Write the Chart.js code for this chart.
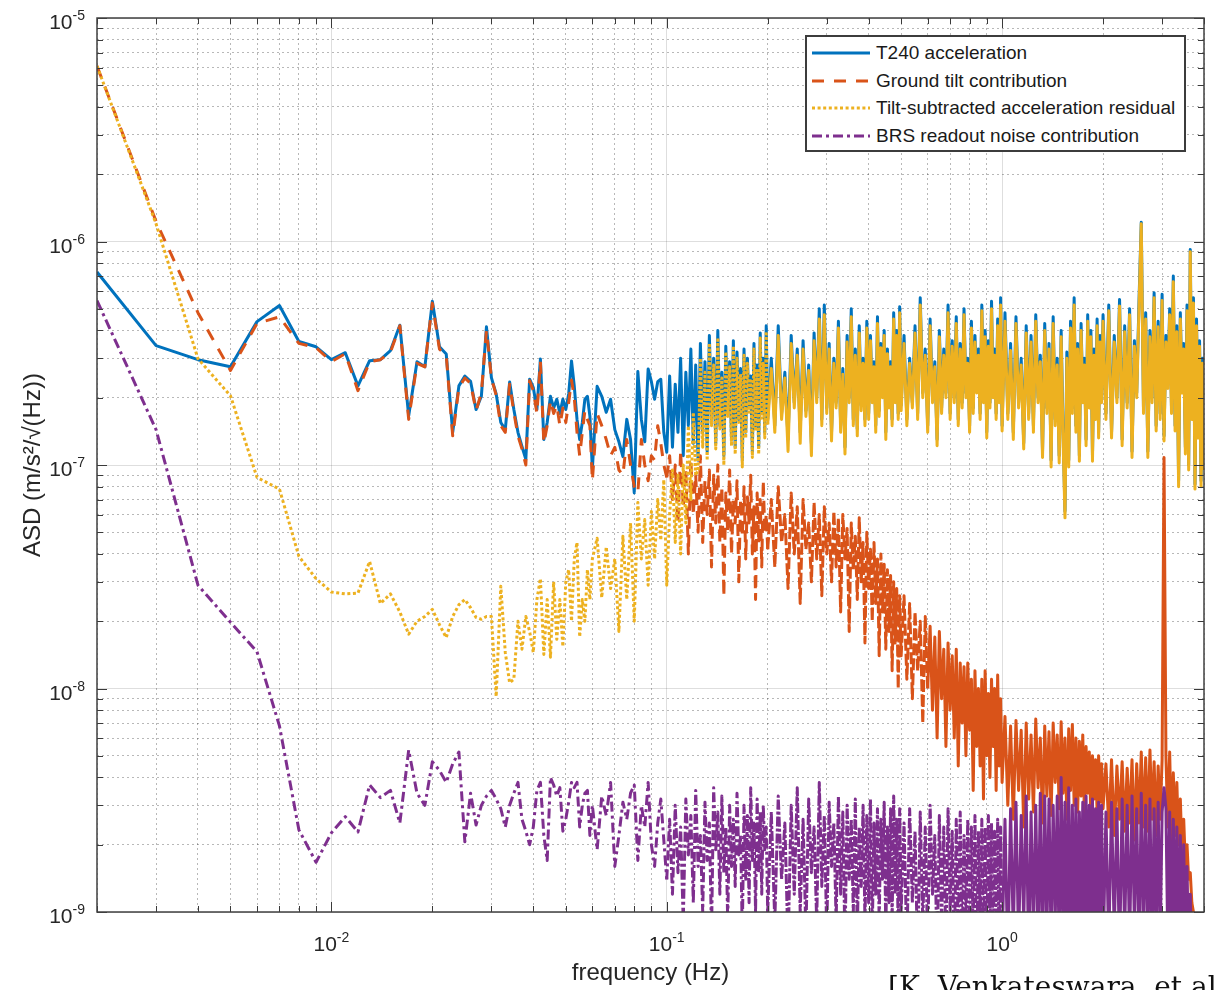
<!DOCTYPE html>
<html>
<head>
<meta charset="utf-8">
<title>T240 / BRS tilt subtraction ASD</title>
<script src="https://cdn.jsdelivr.net/npm/chart.js@4.4.1/dist/chart.umd.min.js"></script>
<style>
  html, body { margin: 0; padding: 0; background: #fff; }
  #wrap { position: relative; width: 1215px; height: 990px; overflow: hidden; font-family: "Liberation Sans", Arial, sans-serif; }
  #chart { position: absolute; left: 0; top: 0; }
  #legend { position: absolute; left: 805px; top: 35px; width: 377px; height: 113px; border: 2px solid #3c3c3c; background: #fff; }
  .row { position: absolute; left: 5px; height: 20px; display: flex; align-items: center; }
  .row span { margin-left: 6px; font-size: 19px; color: #1a1a1a; white-space: nowrap; }
  #cite { position: absolute; left: 888px; top: 973px; font-family: "DejaVu Serif", serif; font-size: 28px; line-height: 28px; white-space: nowrap; color: #111; }
</style>
</head>
<body>
<div id="wrap">
  <canvas id="chart" width="1215" height="990"></canvas>
  <div id="legend">
    <div class="row" style="top:6px"><svg width="58" height="8"><line x1="0" y1="4" x2="58" y2="4" stroke="#0072BD" stroke-width="3"/></svg><span>T240 acceleration</span></div>
    <div class="row" style="top:34px"><svg width="58" height="8"><line x1="0" y1="4" x2="58" y2="4" stroke="#D95319" stroke-width="3" stroke-dasharray="12 10"/></svg><span>Ground tilt contribution</span></div>
    <div class="row" style="top:61px"><svg width="58" height="8"><line x1="0" y1="4" x2="58" y2="4" stroke="#EDB120" stroke-width="3" stroke-dasharray="3 2.6"/></svg><span>Tilt-subtracted acceleration residual</span></div>
    <div class="row" style="top:89px"><svg width="58" height="8"><line x1="0" y1="4" x2="58" y2="4" stroke="#7E2F8E" stroke-width="3" stroke-dasharray="10 4 3 4"/></svg><span>BRS readout noise contribution</span></div>
  </div>
  <div id="cite">[K. Venkateswara, et al</div>
</div>
<script>
// frequency grid in mHz (1 mHz resolution at the low end, thinned out above)
const freqMHz = [
  2,3,4,5,6,7,8,9,10,11,12,13,14,15,16,17,18,19,20,21,22,23,24,25,26,27,28,29,30,
  31,32,33,34,35,36,37,38,39,40,41,42,43,44,45,46,47,48,49,50,51,52,53,54,55,56,57,58,59,60,
  62,64,66,68,70,72,74,76,78,80,82,84,86,88,90,92,94,96,98,100,
  102,104,106,108,110,112,114,116,118,120,122,124,126,128,130,132,134,136,138,140,
  142,144,146,148,150,152,154,156,158,160,162,164,166,168,170,172,174,176,178,180,
  182,184,186,188,190,192,194,196,198,200,
  205,210,215,220,225,230,235,240,245,250,255,260,265,270,275,280,285,290,295,300,
  305,310,315,320,325,330,335,340,345,350,355,360,365,370,375,380,385,390,395,400,
  405,410,415,420,425,430,435,440,445,450,455,460,465,470,475,480,485,490,495,500,
  510,520,530,540,550,560,570,580,590,600,610,620,630,640,650,660,670,680,690,700,
  710,720,730,740,750,760,770,780,790,800,810,820,830,840,850,860,870,880,890,900,
  910,920,930,940,950,960,970,980,990,1000,
  1020,1040,1060,1080,1100,1120,1140,1160,1180,1200,1220,1240,1260,1280,1300,1320,1340,1360,1380,1400,
  1420,1440,1460,1480,1500,1520,1540,1560,1580,1600,1620,1640,1660,1680,1700,1720,1740,1760,1780,1800,
  1820,1840,1860,1880,1900,1920,1940,1960,1980,2000,
  2040,2080,2120,2160,2200,2240,2280,2320,2360,2400,2440,2480,2520,2560,2600,2640,2680,2720,2760,2800,
  2840,2880,2920,2960,3000,3040,3080,3120,3160,3200,3240,3280,3320,3360,3400,3440,3480,3520,3560,3600,
  3640,3680,3720,3760,3800,3840,3880,3920,3960,4000
];

// ASD values in units of 1e-9 m/s^2/sqrt(Hz)
const t240Accel = [
  730,342,296,275,438,517,357,338,296,318,226,293,296,325,422,166,290,275,540,338,314,140,226,250,237,177,203,415,246,
  208,155,144,235,177,140,121,106,242,222,177,298,130,155,203,180,197,170,197,177,208,292,225,160,130,155,197,203,165,96,
  225,203,172,197,144,127,109,160,130,75,262,160,127,269,236,197,236,242,140,114,
  250,120,230,140,300,110,260,150,330,125,280,105,350,140,290,115,380,160,300,125,
  400,150,260,110,340,170,290,130,360,120,320,160,270,105,330,140,300,180,250,115,
  350,150,280,120,390,170,300,140,420,160,
  300,150,420,170,260,130,380,190,330,140,360,175,280,125,390,200,500,160,520,180,
  350,140,300,190,440,150,270,120,380,200,500,160,330,145,420,185,300,160,440,170,
  380,200,290,150,460,175,350,210,400,140,330,190,290,160,480,200,400,170,510,185,
  380,160,300,190,420,170,560,210,330,150,450,200,290,130,400,180,330,210,520,170,
  360,200,460,160,350,190,500,210,300,150,440,180,380,220,330,170,520,200,400,140,
  360,190,540,210,330,170,450,200,560,150,
  480,170,350,140,460,190,300,125,420,170,380,150,470,200,310,115,430,180,350,105,
  460,160,300,110,400,140,62,320,105,440,180,560,150,350,110,430,200,300,130,470,
  190,400,110,330,170,450,140,380,200,470,
  170,520,140,380,200,550,130,420,190,500,115,360,210,540,1220,180,480,115,400,200,
  590,150,440,170,580,135,380,230,500,180,700,150,420,85,480,220,350,120,520,100,
  920,170,560,82,450,140,360,85,300,100
];

const groundTilt = [
  6100,1230,480,265,430,460,350,335,290,315,215,290,296,320,420,160,285,275,530,330,310,135,222,245,232,175,210,400,245,
  205,150,140,230,172,135,118,100,238,215,170,290,125,150,195,170,185,150,180,155,190,240,200,140,110,140,175,160,150,85,
  170,150,130,110,120,95,90,130,100,80,75,130,100,85,110,105,150,125,100,88,
  110,70,100,55,115,65,95,40,105,60,90,50,110,45,85,60,95,35,90,55,
  100,45,80,26,75,50,95,40,70,55,85,30,70,48,80,38,72,55,90,40,
  65,25,75,45,70,35,85,50,60,42,
  70,35,80,45,60,28,75,40,65,24,70,42,55,30,68,38,60,26,65,40,
  55,30,62,35,58,22,60,38,52,18,55,34,48,25,58,30,45,16,50,28,
  42,20,45,24,38,14,40,22,36,15,34,18,32,12,30,16,28,10,26,14,
  26,11,24,9,22,12,20,7,21,10,19,8,17,6,18,9,15,5.5,16,8,
  14,6,15,4.5,13,7,12.5,5,13,6.5,11,3.5,12,5.5,10,4.5,11,3.2,12,5,
  9.5,4,11,5.5,10,3.5,11.5,4.5,9,3.8,
  7.5,3.0,6.8,2.6,7.2,3.5,6.5,2.4,7.0,3.2,6.2,2.8,7.3,3.6,6.0,2.5,6.8,3.3,6.4,2.7,
  7.0,3.8,6.2,2.9,7.1,3.4,6.0,2.6,6.6,3.5,6.9,3.0,6.0,2.8,5.8,3.3,6.2,2.7,5.5,3.4,
  5.2,2.6,5.0,3.2,4.8,2.8,5.0,3.1,4.6,2.9,
  4.6,2.4,4.8,2.2,4.5,2.6,4.7,2.3,4.4,2.5,4.8,2.1,4.6,2.5,5.2,2.4,4.9,2.3,5.3,2.6,
  4.7,2.2,4.5,2.6,4.8,108,5.0,2.4,5.2,2.1,4.2,2.2,3.8,2.0,3.2,1.8,2.6,1.6,2.0,1.4,
  1.5,1.1,1.0,0.8,0.6,0.5,0.4,0.35,0.3,0.25
];

const tiltSubtracted = [
  6100,1200,299,204,88,78,39,31,27,26.5,26.7,37,24,26.5,22,17.5,20,21,22.6,19.3,16.9,21,23.7,25,23,20.8,20.4,21,21,
  9.2,28.7,14.5,10.6,11,20,15,21,18,14.5,25,31,14.2,25,13.8,30,16.6,25,15.4,30,34,20,38,45,17,25,20,34,25,38,
  47,25.5,43,28,38,18,48,25,55,20,68,38,57,29,62,38,70,46,86,29,
  60,95,45,90,40,100,55,150,70,170,90,95,300,120,260,105,350,150,280,118,
  370,145,245,100,320,165,275,122,340,112,300,155,255,98,310,132,285,172,238,108,
  330,142,265,112,370,162,285,132,395,152,
  270,140,380,160,245,115,350,180,310,125,330,165,265,110,360,190,450,150,470,170,
  330,128,285,180,410,140,255,112,355,190,460,150,310,135,390,175,285,150,410,160,
  360,190,275,140,430,165,335,200,380,130,315,180,275,150,450,190,380,160,480,175,
  350,150,285,180,390,160,520,200,310,140,420,190,275,122,375,170,310,200,480,160,
  340,190,430,150,330,180,470,200,285,140,410,170,355,210,310,160,490,190,375,132,
  340,180,500,200,310,160,420,190,520,142,
  440,160,325,130,430,180,280,118,390,160,355,140,440,190,290,108,400,170,330,98,
  430,150,280,102,375,130,58,300,98,410,170,520,140,330,104,400,190,280,122,440,
  180,375,104,310,160,420,132,355,190,440,
  160,490,132,355,190,515,122,395,180,470,108,340,200,505,1200,170,450,108,375,190,
  560,142,415,160,545,128,355,220,470,170,660,142,395,80,450,210,330,112,490,95,
  900,160,530,78,420,132,340,80,285,95
];

const brsNoise = [
  544,144,29,19.8,14.6,6.8,2.33,1.67,2.26,2.67,2.28,3.7,3.25,3.5,2.5,5.3,3.4,3.0,4.7,4.3,3.8,4.6,5.2,2.06,3.4,2.45,3.0,3.3,3.5,
  3.2,2.9,2.4,3.0,3.4,3.8,2.6,2.3,2.0,2.4,3.5,3.8,2.2,1.7,4.0,3.7,3.3,3.6,2.3,2.6,3.1,3.8,3.6,3.8,2.4,3.0,3.4,3.5,2.2,3.0,
  1.9,3.3,2.7,3.8,1.6,2.2,3.1,2.6,3.4,3.7,1.7,3.0,2.4,3.8,2.0,1.6,2.5,3.2,2.1,1.4,
  2.6,1.2,3.0,1.5,2.4,0.9,3.2,1.8,2.7,1.1,3.5,1.6,2.2,1.0,3.1,1.7,2.5,0.8,3.6,1.9,
  2.8,1.2,3.3,1.5,2.4,0.9,3.0,1.6,2.6,1.3,3.4,1.8,2.2,0.8,3.0,1.4,2.7,1.1,3.6,1.7,
  2.5,1.0,3.2,1.5,2.8,1.2,3.0,1.9,2.4,1.0,
  2.8,0.9,3.3,1.4,2.5,0.7,3.0,1.2,3.6,1.0,2.6,0.8,3.2,1.5,2.4,0.9,3.8,1.3,2.7,0.8,
  3.1,1.6,2.5,0.9,3.3,1.2,2.8,0.7,3.0,1.4,2.6,1.0,3.2,0.8,2.4,1.3,3.0,0.9,2.7,1.1,
  3.2,0.8,2.5,1.2,2.9,0.9,2.6,1.4,3.1,0.8,2.4,1.1,2.9,0.9,3.3,1.2,2.6,0.8,2.9,1.0,
  2.5,0.7,2.9,1.1,2.3,0.6,2.8,0.9,2.4,0.7,3.0,1.2,2.2,0.6,2.7,0.9,2.4,0.7,2.9,1.0,
  2.3,0.6,2.6,0.8,2.8,0.7,2.2,0.9,2.6,0.6,2.4,0.8,2.7,0.6,2.3,0.9,2.6,0.7,2.4,0.6,
  2.7,0.8,2.5,0.6,2.3,0.9,2.6,0.6,2.4,0.7,
  2.6,0.6,2.9,0.8,3.1,0.7,2.7,0.9,3.3,0.6,2.8,0.8,3.0,0.7,3.4,0.6,3.3,0.8,3.2,0.7,
  3.0,0.9,3.3,0.6,4.0,0.8,3.1,0.7,3.6,0.6,3.0,0.8,3.2,0.7,2.8,0.9,3.1,0.6,3.3,0.8,
  3.0,0.7,3.2,0.6,2.9,0.8,3.1,0.7,3.0,0.6,
  2.8,0.7,3.1,0.8,2.9,0.6,3.2,0.8,3.0,0.7,3.3,0.9,2.9,0.6,3.4,0.8,3.0,0.7,3.2,0.6,
  2.9,0.8,3.1,0.7,2.8,3.6,2.9,0.7,2.8,0.6,2.6,0.8,2.4,0.6,2.2,0.7,2.0,0.6,1.6,0.6,
  1.2,0.5,0.9,0.4,0.3,0.3,0.25,0.2,0.2,0.2
];

// axis ticks
const xTickValues = [0.002,0.003,0.004,0.005,0.006,0.007,0.008,0.009,
  0.01,0.02,0.03,0.04,0.05,0.06,0.07,0.08,0.09,
  0.1,0.2,0.3,0.4,0.5,0.6,0.7,0.8,0.9,1,2,3,4];
const xDecades = [0.01, 0.1, 1];
const xExponents = ['-2', '-1', '0'];

const yTickValues = [1e-9,2e-9,3e-9,4e-9,5e-9,6e-9,7e-9,8e-9,9e-9,
  1e-8,2e-8,3e-8,4e-8,5e-8,6e-8,7e-8,8e-8,9e-8,
  1e-7,2e-7,3e-7,4e-7,5e-7,6e-7,7e-7,8e-7,9e-7,
  1e-6,2e-6,3e-6,4e-6,5e-6,6e-6,7e-6,8e-6,9e-6,1e-5];
const yDecades = [1e-9, 1e-8, 1e-7, 1e-6, 1e-5];
const yExponents = ['-9', '-8', '-7', '-6', '-5'];

[t240Accel, groundTilt, tiltSubtracted, brsNoise].forEach(function(a, i) {
  if (a.length !== freqMHz.length) console.error('series ' + i + ' length ' + a.length + ' vs ' + freqMHz.length);
});

function isDecade(v) {
  const l = Math.log10(v);
  return Math.abs(l - Math.round(l)) < 1e-9;
}

function toPoints(vals) {
  const pts = [];
  freqMHz.forEach((f, i) => {
    if (vals[i] != null) pts.push({ x: f / 1000, y: vals[i] * 1e-9 });
  });
  return pts;
}

// dash pattern per frequency band: where the spectrum gets dense the
// original strokes merge into an almost solid band
function dashByBand(bands) {
  return ctx => {
    const f = ctx.p0.parsed.x;
    for (const b of bands) if (f < b[0]) return b[1];
    return [];
  };
}

function series(label, vals, color, dash, bands, order) {
  return {
    label: label,
    data: toPoints(vals),
    borderColor: color,
    backgroundColor: color,
    borderWidth: 3,
    borderDash: dash,
    borderJoinStyle: 'round',
    segment: { borderDash: dashByBand(bands) },
    pointRadius: 0,
    tension: 0,
    fill: false,
    clip: 0,
    order: order
  };
}

const fontFamily = '"Liberation Sans", Arial, sans-serif';

// box around the axes with inward tick marks and 10^n labels
const axesBox = {
  id: 'axesBox',
  afterDatasetsDraw(chart) {
    const { ctx, chartArea: a, scales } = chart;
    ctx.save();
    ctx.strokeStyle = '#3a3a3a';
    ctx.lineWidth = 1;
    ctx.beginPath();
    scales.x.ticks.forEach(t => {
      const px = Math.round(scales.x.getPixelForValue(t.value)) + 0.5;
      const len = isDecade(t.value) ? 10 : 6;
      ctx.moveTo(px, a.bottom); ctx.lineTo(px, a.bottom - len);
      ctx.moveTo(px, a.top); ctx.lineTo(px, a.top + len);
    });
    scales.y.ticks.forEach(t => {
      const py = Math.round(scales.y.getPixelForValue(t.value)) + 0.5;
      const len = isDecade(t.value) ? 10 : 6;
      ctx.moveTo(a.left, py); ctx.lineTo(a.left + len, py);
      ctx.moveTo(a.right, py); ctx.lineTo(a.right - len, py);
    });
    ctx.stroke();
    ctx.lineWidth = 1.5;
    ctx.strokeStyle = '#404040';
    ctx.strokeRect(a.left, a.top, a.right - a.left, a.bottom - a.top);

    const base = '21px ' + fontFamily, sup = '14px ' + fontFamily;
    ctx.fillStyle = '#262626';
    ctx.textAlign = 'left';
    ctx.textBaseline = 'alphabetic';
    const widths = exp => {
      ctx.font = base; const bw = ctx.measureText('10').width;
      ctx.font = sup; const ew = ctx.measureText(exp).width;
      return [bw, ew];
    };
    yDecades.forEach((v, i) => {
      const py = scales.y.getPixelForValue(v);
      const [bw, ew] = widths(yExponents[i]);
      const right = a.left - 12;
      ctx.font = base; ctx.fillText('10', right - ew - bw, py + 11);
      ctx.font = sup; ctx.fillText(yExponents[i], right - ew, py + 2);
    });
    xDecades.forEach((v, i) => {
      const px = scales.x.getPixelForValue(v);
      const [bw, ew] = widths(xExponents[i]);
      const left = px - (bw + ew) / 2;
      ctx.font = base; ctx.fillText('10', left, a.bottom + 39);
      ctx.font = sup; ctx.fillText(xExponents[i], left + bw, a.bottom + 30);
    });
    ctx.restore();
  }
};

const gridColor = ctx => (ctx.tick && isDecade(ctx.tick.value)) ? 'rgba(0,0,0,0.13)' : 'rgba(0,0,0,0.28)';
const gridDash = ctx => (ctx.tick && !isDecade(ctx.tick.value)) ? [2, 3] : [];

new Chart(document.getElementById('chart'), {
  type: 'line',
  data: {
    datasets: [
      series('T240 acceleration', t240Accel, '#0072BD', [], [], 4),
      series('Ground tilt contribution', groundTilt, '#D95319', [12, 10],
        [[0.1, [12, 10]], [0.2, [12, 6]], [0.6, [12, 3]]], 3),
      series('Tilt-subtracted acceleration residual', tiltSubtracted, '#EDB120', [3, 2.6],
        [[0.12, [3, 2.6]], [0.2, [3, 1.5]]], 2),
      series('BRS readout noise contribution', brsNoise, '#7E2F8E', [10, 4, 3, 4],
        [[0.1, [10, 4, 3, 4]], [0.2, [10, 3, 3, 3]], [1, [10, 2, 3, 2]]], 1)
    ]
  },
  options: {
    responsive: false,
    animation: false,
    devicePixelRatio: 1,
    layout: { padding: { left: 0, right: 11, top: 18, bottom: 0 } },
    plugins: {
      legend: { display: false },
      tooltip: { enabled: false }
    },
    scales: {
      x: {
        type: 'logarithmic',
        position: 'bottom',
        min: 0.002,
        max: 4,
        afterFit: s => { s.height = 78; },
        afterBuildTicks: s => { s.ticks = xTickValues.map(v => ({ value: v })); },
        ticks: { display: false, autoSkip: false },
        grid: { color: gridColor, lineWidth: 1, drawTicks: false },
        border: { display: false, dash: gridDash },
        title: {
          display: true,
          text: 'frequency (Hz)',
          color: '#262626',
          font: { size: 24, family: fontFamily },
          padding: { top: 0, bottom: 2 }
        }
      },
      y: {
        type: 'logarithmic',
        position: 'left',
        min: 1e-9,
        max: 1e-5,
        afterFit: s => { s.width = 97; },
        afterBuildTicks: s => { s.ticks = yTickValues.map(v => ({ value: v })); },
        ticks: { display: false, autoSkip: false },
        grid: { color: gridColor, lineWidth: 1, drawTicks: false },
        border: { display: false, dash: gridDash },
        title: {
          display: true,
          text: 'ASD (m/s²/√(Hz))',
          color: '#262626',
          font: { size: 24, family: fontFamily },
          padding: { top: 19, bottom: 0 }
        }
      }
    }
  },
  plugins: [axesBox]
});
</script>
</body>
</html>
